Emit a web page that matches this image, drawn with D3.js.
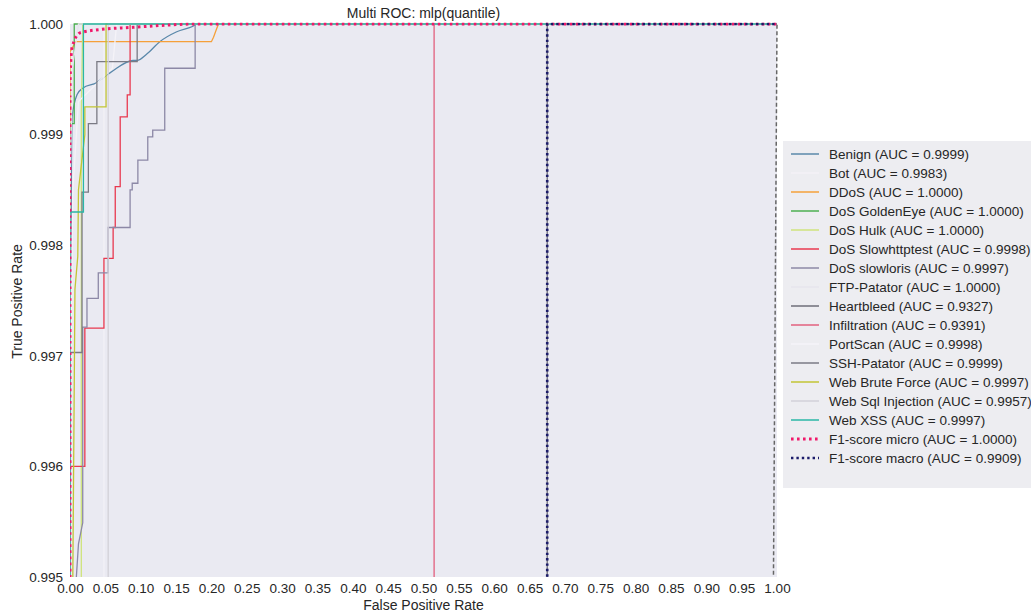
<!DOCTYPE html>
<html>
<head>
<meta charset="utf-8">
<script src="https://cdn.jsdelivr.net/npm/d3@7"></script>
<style>
  html, body { margin: 0; padding: 0; background: #ffffff; }
  svg { display: block; font-family: "Liberation Sans", Arial, sans-serif; }
</style>
</head>
<body>
<svg id="chart" width="1031" height="614"></svg>
<script>
// ROC curves per class, as [false positive rate, true positive rate] points
const classNames = [
  "Benign", "Bot", "DDoS", "DoS GoldenEye", "DoS Hulk", "DoS Slowhttptest",
  "DoS slowloris", "FTP-Patator", "Heartbleed", "Infiltration", "PortScan",
  "SSH-Patator", "Web Brute Force", "Web Sql Injection", "Web XSS"
];
const classAuc = [
  0.9999, 0.9983, 1.0000, 1.0000, 1.0000, 0.9998, 0.9997, 1.0000,
  0.9327, 0.9391, 0.9998, 0.9999, 0.9997, 0.9957, 0.9997
];
const classColors = [
  "#5a88aa", "#f3f1f6", "#f5a03a", "#4caf50", "#cfe37c", "#e8384f",
  "#8c88a6", "#e6e4ec", "#6e6e78", "#e2607e", "#f5f3f8",
  "#7a7a84", "#c2c535", "#d2d0d8", "#2ab7a6"
];

const rocBenign = [[0,0],[0,0.9950],[0.001,0.9975],[0.002,0.9987],[0.003,0.99916],[0.0099,0.99936],
  [0.018,0.99942],[0.038,0.99947],[0.052,0.99954],[0.057,0.99956],[0.089,0.99967],[0.095,0.99967],
  [0.109,0.99973],[0.127,0.99984],[0.151,0.99993],[0.174,0.99998],[0.18,1],[1,1]];
const rocBot = [[0,0],[0,0.965],[0.048,0.965],[0.048,1],[1,1]];
const rocDDoS = [[0,0],[0,0.99975],[0.003,0.99978],[0.008,0.99984],[0.2,0.99984],
  [0.203,0.99988],[0.207,0.99995],[0.21,1],[1,1]];
const rocGoldenEye = [[0,0],[0,0.9991],[0.006,0.9991],[0.006,1],[1,1]];
const rocHulk = [[0,0],[0.016,0.9945],[0.016,0.9992],[0.018,1],[1,1]];
const rocSlowhttptest = [[0,0],[0,0.9960],[0.021,0.9960],[0.021,0.99725],[0.048,0.99725],
  [0.048,0.99788],[0.061,0.99788],[0.061,0.99816],[0.064,0.99816],[0.064,0.99853],
  [0.071,0.99853],[0.071,0.99916],[0.081,0.99916],[0.081,0.99936],[0.085,0.99936],[0.085,1],[1,1]];
const rocSlowloris = [[0,0],[0.009,0.9950],[0.012,0.9953],[0.018,0.99549],[0.018,0.99726],
  [0.024,0.99726],[0.024,0.99752],[0.040,0.99752],[0.040,0.99775],[0.054,0.99775],[0.054,0.99816],
  [0.085,0.99816],[0.085,0.99850],[0.088,0.99850],[0.088,0.99856],[0.096,0.99856],[0.096,0.99877],
  [0.110,0.99877],[0.110,0.99898],[0.117,0.99898],[0.117,0.99904],[0.134,0.99904],[0.134,0.9996],
  [0.177,0.9996],[0.177,1],[1,1]];
const rocFtp = [[0,0],[0,0.9985],[0.0035,0.9996],[0.012,1],[1,1]];
const rocHeartbleed = [[0,0],[0,0.9],[0.675,0.9],[0.675,1],[1,1]];
const rocInfiltration = [[0,0],[0,0.882],[0.515,0.882],[0.515,1],[1,1]];
const rocPortScan = [[0,0],[0,0.996],[0.004,0.9985],[0.012,0.9993],[0.06,0.9996],[0.066,1],[1,1]];
const rocSsh = [[0,0],[0,0.99703],[0.017,0.99703],[0.017,0.99848],[0.026,0.99848],[0.026,0.9991],
  [0.038,0.9991],[0.038,0.99966],[0.095,0.99966],[0.095,1],[1,1]];
const rocWebBrute = [[0,0],[0.004,0.995],[0.007,0.9976],[0.011,0.9979],[0.012,0.9985],
  [0.021,0.9990],[0.021,0.99925],[0.051,0.99925],[0.051,1],[1,1]];
const rocWebSql = [[0,0],[0,0.92],[0.054,0.92],[0.054,1],[1,1]];
const rocWebXss = [[0,0],[0,0.9983],[0.019,0.9983],[0.019,1],[1,1]];

const classCurves = [rocBenign, rocBot, rocDDoS, rocGoldenEye, rocHulk, rocSlowhttptest,
  rocSlowloris, rocFtp, rocHeartbleed, rocInfiltration, rocPortScan, rocSsh,
  rocWebBrute, rocWebSql, rocWebXss];

// micro / macro averaged curves
const rocMicro = [[0,0],[0,0.9994],[0.001,0.99965],[0.003,0.99979],[0.014,0.99992],
  [0.042,0.99995],[0.089,0.99997],[0.137,0.99999],[0.174,1],[1,1]];
const rocMacro = [[0,0],[0,0.985],[0.675,0.99],[0.675,1],[1,1]];
const aucMicro = 1.0000;
const aucMacro = 0.9909;

// chance diagonal
const chanceLine = [[0,0],[1,1]];

const xTicks = [0,0.05,0.1,0.15,0.2,0.25,0.3,0.35,0.4,0.45,0.5,0.55,0.6,0.65,0.7,0.75,0.8,0.85,0.9,0.95,1.0];
const yTicks = [0.995,0.996,0.997,0.998,0.999,1.000];

const chartTitle = "Multi ROC: mlp(quantile)";
const xLabel = "False Positive Rate";
const yLabel = "True Positive Rate";

// ---- layout
const svg = d3.select("#chart");
const plot = { left: 70, right: 777, top: 24, bottom: 577 };
const textColor = "#262626";

const x = d3.scaleLinear().domain([0, 1]).range([plot.left, plot.right]);
const y = d3.scaleLinear().domain([0.995, 1.0]).range([plot.bottom, plot.top]);

svg.append("rect")
  .attr("x", plot.left).attr("y", plot.top)
  .attr("width", plot.right - plot.left).attr("height", plot.bottom - plot.top)
  .attr("fill", "#eaeaf2");

svg.append("defs").append("clipPath").attr("id", "plotClip")
  .append("rect")
  .attr("x", plot.left).attr("y", plot.top - 1.5)
  .attr("width", plot.right - plot.left + 1.5).attr("height", plot.bottom - plot.top + 1.5);

const line = d3.line().x(d => x(d[0])).y(d => y(d[1]));
const smoothLine = d3.line().x(d => x(d[0])).y(d => y(d[1])).curve(d3.curveMonotoneX);

const curvesG = svg.append("g").attr("clip-path", "url(#plotClip)");

classCurves.forEach((pts, i) => {
  curvesG.append("path")
    .attr("d", (i === 0 ? smoothLine : line)(pts))
    .attr("fill", "none")
    .attr("stroke", classColors[i])
    .attr("stroke-width", 1.3);
});

curvesG.append("path")
  .attr("d", line(chanceLine))
  .attr("fill", "none").attr("stroke", "#666").attr("stroke-width", 1.5)
  .attr("stroke-dasharray", "4,2.5");

curvesG.append("path")
  .attr("d", smoothLine(rocMicro))
  .attr("fill", "none").attr("stroke", "#f0186a").attr("stroke-width", 3)
  .attr("stroke-dasharray", "2.6,3.4");

curvesG.append("path")
  .attr("d", line(rocMacro))
  .attr("fill", "none").attr("stroke", "#1b1b6a").attr("stroke-width", 2.6)
  .attr("stroke-dasharray", "2.4,3");

// ---- axes
const xAxis = d3.axisBottom(x).tickValues(xTicks).tickFormat(d3.format(".2f")).tickSize(0).tickPadding(6);
const yAxis = d3.axisLeft(y).tickValues(yTicks).tickFormat(d3.format(".3f")).tickSize(0).tickPadding(7);

const gx = svg.append("g").attr("transform", `translate(0,${plot.bottom})`).call(xAxis);
const gy = svg.append("g").attr("transform", `translate(${plot.left},0)`).call(yAxis);
[gx, gy].forEach(g => {
  g.select(".domain").remove();
  g.selectAll("text").attr("font-size", 13.5).attr("fill", textColor)
    .attr("font-family", "Liberation Sans, Arial, sans-serif");
});

svg.append("text")
  .attr("x", (plot.left + plot.right) / 2).attr("y", 18)
  .attr("text-anchor", "middle").attr("font-size", 14).attr("fill", textColor)
  .text(chartTitle);

svg.append("text")
  .attr("x", (plot.left + plot.right) / 2).attr("y", 610)
  .attr("text-anchor", "middle").attr("font-size", 14).attr("fill", textColor)
  .text(xLabel);

svg.append("text")
  .attr("transform", `translate(22,${(plot.top + plot.bottom) / 2 + 1}) rotate(-90)`)
  .attr("text-anchor", "middle").attr("font-size", 14).attr("fill", textColor)
  .text(yLabel);

// ---- legend
const legendItems = classNames.map((n, i) => ({
  label: `${n} (AUC = ${classAuc[i].toFixed(4)})`, color: classColors[i], dash: null, width: 1.5
}));
legendItems.push({ label: `F1-score micro (AUC = ${aucMicro.toFixed(4)})`, color: "#f0186a", dash: "2.6,3.4", width: 3 });
legendItems.push({ label: `F1-score macro (AUC = ${aucMacro.toFixed(4)})`, color: "#1b1b6a", dash: "2.4,3", width: 2.6 });

const legend = svg.append("g");
legend.append("rect")
  .attr("x", 783).attr("y", 141).attr("width", 260).attr("height", 347)
  .attr("fill", "#ededf1");

legendItems.forEach((it, i) => {
  const ly = 154 + i * 19;
  legend.append("line")
    .attr("x1", 791).attr("x2", 819).attr("y1", ly).attr("y2", ly)
    .attr("stroke", it.color).attr("stroke-width", it.width)
    .attr("stroke-dasharray", it.dash);
  legend.append("text")
    .attr("x", 829).attr("y", ly + 4.6)
    .attr("font-size", 13.5).attr("fill", textColor)
    .text(it.label);
});
</script>
</body>
</html>
